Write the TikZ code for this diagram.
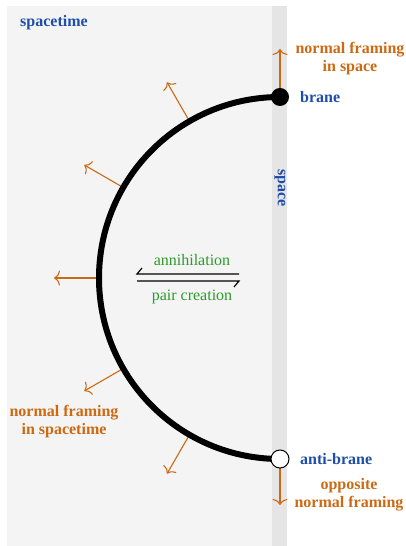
\documentclass[tikz,border=0pt]{standalone}
\usepackage{fontspec}
\setmainfont{Liberation Serif}
\usetikzlibrary{arrows.meta,calc}
\definecolor{bluet}{RGB}{31,78,170}
\definecolor{oranget}{RGB}{204,106,20}
\definecolor{greent}{RGB}{45,154,45}
\definecolor{bgA}{RGB}{244,244,244}
\definecolor{bgB}{RGB}{229,229,229}
\tikzset{
  lbl/.style={font=\fontsize{16}{18}\selectfont\bfseries, text=bluet, inner sep=0pt},
  olbl/.style={font=\fontsize{16}{18}\selectfont\bfseries, text=oranget, align=center, inner sep=0pt},
  glbl/.style={font=\fontsize{16}{18}\selectfont, text=greent, inner sep=0pt},
  normarrow/.style={draw=oranget, line width=1.1pt, -{To[length=6pt,width=15pt]}},
  harp/.style={line width=1.2pt},
}
\begin{document}
\begin{tikzpicture}[x=1pt,y=1pt]
\useasboundingbox (0,0) rectangle (406,546);
\fill[bgA] (7,0) rectangle (272,540);
\fill[bgB] (272,0) rectangle (287,540);
\coordinate (C) at (280,268);
\coordinate (B) at (280,449);
\coordinate (A) at (280,87);
\node[lbl] (spacetime) at (54,523) {spacetime};
\node[lbl, rotate=-90] (space) at (280,358) {space};
% normals on the arc
\foreach \a [count=\i] in {120,150,180,210,240}{
  \coordinate (p\i) at ($(C)+(\a:181)$);
  \coordinate (q\i) at ($(C)+(\a:226)$);
  \draw[normarrow] (p\i) -- (q\i);
}
\coordinate (Bt) at (280,497);
\coordinate (At) at (280,41);
\draw[normarrow] (B) -- (Bt);
\draw[normarrow] (A) -- (At);
% the brane worldline
\draw[line width=6pt] (B) arc[start angle=90,end angle=270,radius=181];
\node[circle, fill=black, minimum size=18pt, inner sep=0pt] (brane) at (B) {};
\node[circle, fill=white, draw=black, line width=1pt, minimum size=18pt, inner sep=0pt] (antibrane) at (A) {};
\node[lbl, anchor=west] (branel) at (300,449) {brane};
\node[lbl, anchor=west] (antibranel) at (300,87) {anti-brane};
\node[olbl] (nfs) at (350,487) {normal framing\\in space};
\node[olbl] (onf) at (349,51) {opposite\\normal framing};
\node[olbl] (nfst) at (64,124) {normal framing\\in spacetime};
% harpoons
\coordinate (h1a) at (239,272);
\coordinate (h1b) at (137,272);
\coordinate (h2a) at (137,265);
\coordinate (h2b) at (239,265);
\draw[harp] (h1a) -- (h1b) -- ++(5,6);
\draw[harp] (h2a) -- (h2b) -- ++(-5,-6);
\node[glbl] (ann) at (192,286) {annihilation};
\node[glbl] (pc) at (192,249) {pair creation};
\end{tikzpicture}
\end{document}
